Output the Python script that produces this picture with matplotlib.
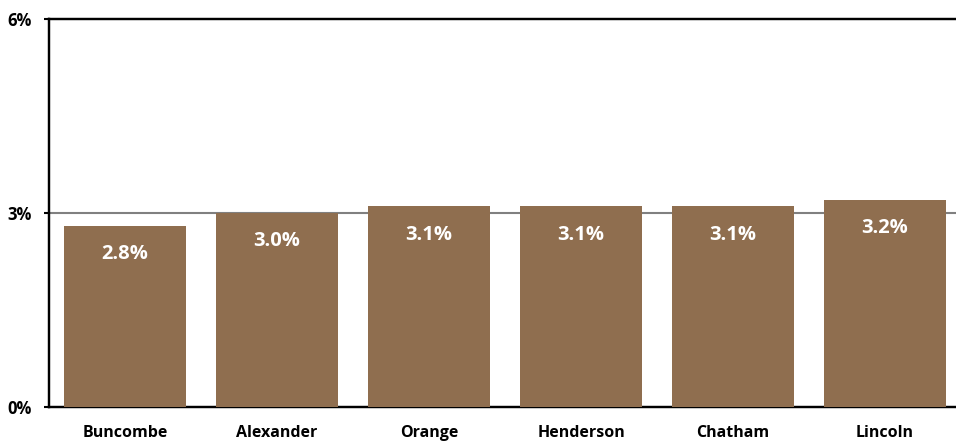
import matplotlib.pyplot as plt

counties = ["Buncombe", "Alexander", "Orange", "Henderson", "Chatham", "Lincoln"]
rates = [2.8, 3.0, 3.1, 3.1, 3.1, 3.2]
y_ticks = [0, 3, 6]
y_tick_labels = ["0%", "3%", "6%"]

bar_color = "#8f6e4f"


def main() -> None:
    plt.rcParams["font.family"] = ["Open Sans", "DejaVu Sans"]
    fig = plt.figure(figsize=(9.56, 4.42), dpi=100)
    ax = fig.add_axes([49 / 956, 1 - 407 / 442, 907 / 956, (407 - 18.5) / 442])

    x = range(len(counties))
    bars = ax.bar(x, rates, width=0.8, color=bar_color, zorder=3)

    for b, v in zip(bars, rates):
        ax.text(b.get_x() + b.get_width() / 2, v - 0.44, f"{v:.1f}%",
                ha="center", va="center", color="white",
                fontsize=14.5, fontweight="bold", zorder=4)

    ax.axhline(3, color="#808080", linewidth=1.5, zorder=2)

    ax.set_xlim(-0.5, 5.467)
    ax.set_ylim(0, 6)
    ax.set_yticks(y_ticks)
    ax.set_yticklabels(y_tick_labels, fontsize=12, fontweight="bold")
    ax.set_xticks(list(x))
    ax.set_xticklabels(counties, fontsize=11.5, fontweight="bold")
    ax.tick_params(axis="x", length=0, pad=13)
    ax.tick_params(axis="y", length=3.6, width=1.5, pad=9)

    for side in ["left", "top", "bottom"]:
        ax.spines[side].set_linewidth(1.75)
        ax.spines[side].set_color("black")
    ax.spines["right"].set_visible(False)

    fig.savefig("out.png", dpi=100)


if __name__ == "__main__":
    main()
